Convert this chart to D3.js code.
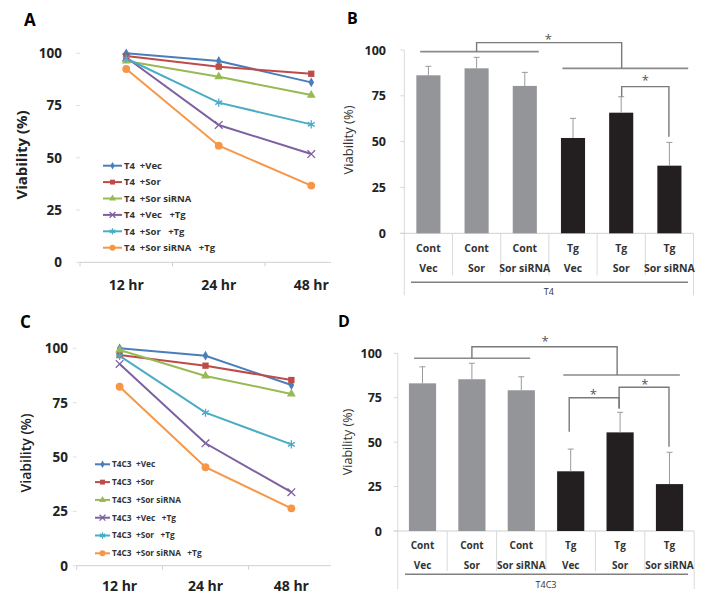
<!DOCTYPE html>
<html><head><meta charset="utf-8">
<script src="https://cdn.jsdelivr.net/npm/d3@7"></script>
<style>body{margin:0;background:#fff}svg{display:block}text{font-family:"Open Sans","Noto Sans",sans-serif}</style>
</head><body><svg id="c" width="715" height="597"></svg>
<script>
// ---------- data ----------
const hours = ["12 hr", "24 hr", "48 hr"];
const yTicks = [0, 25, 50, 75, 100];
const seriesA = ["T4  +Vec", "T4  +Sor", "T4  +Sor siRNA", "T4  +Vec   +Tg", "T4  +Sor   +Tg", "T4  +Sor siRNA   +Tg"];
const valuesA = [
  [100, 96.3, 86.1],
  [98.7, 93.6, 90.2],
  [96.3, 88.8, 80.0],
  [98.0, 65.7, 51.8],
  [97.5, 76.4, 66.0],
  [92.5, 55.8, 36.7]
];
const seriesC = ["T4C3  +Vec", "T4C3  +Sor", "T4C3  +Sor siRNA", "T4C3  +Vec   +Tg", "T4C3  +Sor   +Tg", "T4C3  +Sor siRNA   +Tg"];
const valuesC = [
  [100, 96.6, 83.1],
  [96.9, 92.0, 85.4],
  [99.2, 87.3, 79.0],
  [92.8, 56.3, 33.8],
  [96.5, 70.4, 55.8],
  [82.3, 45.3, 26.4]
];
const barTop = ["Cont", "Cont", "Cont", "Tg", "Tg", "Tg"];
const barBottom = ["Vec", "Sor", "Sor siRNA", "Vec", "Sor", "Sor siRNA"];
const valuesB = [86.2, 90.0, 80.4, 52.0, 65.8, 36.9];
const errB = [4.9, 6.0, 7.4, 10.7, 8.7, 12.7];
const valuesD = [83.1, 85.4, 79.2, 33.6, 55.5, 26.4];
const errD = [9.3, 9.0, 7.6, 12.5, 11.3, 17.9];
// significance annotations: x in category units, y in % units
const sigB = {
  groups: [[0.33, 2.79, 99.1], [3.28, 5.89, 90.0]],
  brackets: [[1.50, 99.1, 4.51, 90.0, 104], [4.51, 74.5, 5.49, 52.7, 80]],
  stars: [[2.99, 107], [5.0, 85]]
};
const sigD = {
  groups: [[0.33, 2.68, 97.2], [3.35, 5.71, 87.8]],
  brackets: [[1.50, 97.2, 4.44, 87.8, 103.7], [3.47, 55.9, 4.48, 69, 75], [4.48, 69, 5.49, 47.4, 80.9]],
  stars: [[2.98, 107.9], [3.96, 78.4], [5.0, 84]]
};

const colors = ["#4a7ebb", "#be4b48", "#98b954", "#7d60a0", "#4bacc6", "#f79646"];
const symbols = [d3.symbolDiamond, d3.symbolSquare, d3.symbolTriangle, d3.symbolTimes, d3.symbolAsterisk, d3.symbolCircle];
const symSize = [28, 40, 34, 40, 45, 48];
const stroked = [false, false, false, true, true, false];

const svg = d3.select("#c");

function marker(g, i, cx, cy, scale) {
  const p = g.append("path")
    .attr("d", d3.symbol().type(symbols[i]).size(symSize[i] * (scale || 1))())
    .attr("transform", `translate(${cx},${cy})`);
  if (stroked[i]) p.attr("fill", "none").attr("stroke", colors[i]).attr("stroke-width", 1.3);
  else p.attr("fill", colors[i]);
}

function linePanel(o) {
  const x = d3.scaleBand().domain(hours).range(o.xr);
  const y = d3.scaleLinear().domain([0, 100]).range(o.yr);
  const g = svg.append("g");
  g.append("text").attr("x", o.letter[0]).attr("y", o.letter[1]).attr("font-size", 17).attr("font-weight", "bold").text(o.name);
  g.selectAll(".yt").data(yTicks).join("text")
    .attr("x", o.ylx).attr("y", d => y(d)).attr("dy", "0.36em")
    .attr("text-anchor", "end").attr("font-weight", "bold").attr("font-size", o.tfs).attr("fill", "#222").text(d => d);
  g.selectAll(".ytk").data(yTicks).join("line")
    .attr("x1", o.xr[0] - 4).attr("x2", o.xr[0]).attr("y1", d => y(d)).attr("y2", d => y(d)).attr("stroke", "#e0e0e0");
  g.append("line").attr("x1", o.xr[0]).attr("x2", o.axEnd).attr("y1", y(0)).attr("y2", y(0)).attr("stroke", "#cfcfcf");
  g.selectAll(".xtk").data(hours).join("line")
    .attr("x1", d => x(d)).attr("x2", d => x(d)).attr("y1", y(0)).attr("y2", y(0) + 4).attr("stroke", "#cfcfcf");
  g.selectAll(".xl").data(hours).join("text")
    .attr("x", d => x(d) + x.bandwidth() / 2).attr("y", o.xly).attr("text-anchor", "middle")
    .attr("font-weight", "bold").attr("font-size", o.xfs).attr("fill", "#222").text(d => d);
  g.append("text").attr("transform", `translate(${o.ylab[0]},${o.ylab[1]}) rotate(-90)`)
    .attr("text-anchor", "middle").attr("dy", "0.35em").attr("font-size", o.ylfs).attr("font-weight", o.ylw).attr("fill", "#222")
    .text("Viability (%)");
  const line = d3.line().x((d, j) => x(hours[j]) + x.bandwidth() / 2).y(d => y(d));
  o.values.forEach((vals, i) => {
    g.append("path").attr("d", line(vals)).attr("fill", "none").attr("stroke", colors[i]).attr("stroke-width", 2);
  });
  o.values.forEach((vals, i) => {
    vals.forEach((v, j) => marker(g, i, x(hours[j]) + x.bandwidth() / 2, y(v)));
  });
  // legend
  o.series.forEach((s, i) => {
    const ly = o.leg[1] + i * o.leg[3];
    g.append("line").attr("x1", o.leg[0]).attr("x2", o.leg[0] + o.leg[2]).attr("y1", ly).attr("y2", ly)
      .attr("stroke", colors[i]).attr("stroke-width", 2);
    marker(g, i, o.leg[0] + o.leg[2] / 2, ly, 0.6);
    g.append("text").attr("x", o.leg[0] + o.leg[2] + 2).attr("y", ly).attr("dy", "0.35em")
      .attr("font-size", o.lfs).attr("font-weight", "bold").attr("fill", "#333")
      .text(s.replace(/ /g, "\u00a0"));
  });
}

function barPanel(o) {
  const x = d3.scaleBand().domain(d3.range(barTop.length)).range(o.xr);
  const y = d3.scaleLinear().domain([0, 100]).range(o.yr);
  const bw = x.bandwidth();
  const xc = v => o.xr[0] + v * bw; // category-unit position
  const g = svg.append("g");
  g.append("text").attr("x", o.letter[0]).attr("y", o.letter[1]).attr("font-size", 16).attr("font-weight", "bold").text(o.name);
  g.append("text").attr("transform", `translate(${o.ylab[0]},${o.ylab[1]}) rotate(-90)`)
    .attr("text-anchor", "middle").attr("dy", "0.35em").attr("font-size", o.ylfs).attr("fill", "#333")
    .text("Viability (%)");
  g.selectAll(".yt").data(yTicks).join("text")
    .attr("x", o.ylx).attr("y", d => y(d)).attr("dy", "0.36em")
    .attr("text-anchor", "end").attr("font-weight", "bold").attr("font-size", o.tfs).attr("fill", "#222").text(d => d);
  g.selectAll(".ytk").data(yTicks).join("line")
    .attr("x1", o.xr[0] - 4).attr("x2", o.xr[0]).attr("y1", d => y(d)).attr("y2", d => y(d)).attr("stroke", "#d9d9d9");
  // axes lines
  g.append("line").attr("x1", o.xr[0]).attr("x2", o.xr[0]).attr("y1", y(100)).attr("y2", y(0) + o.outerDrop).attr("stroke", "#d9d9d9");
  g.append("line").attr("x1", o.xr[1]).attr("x2", o.xr[1]).attr("y1", y(0)).attr("y2", y(0) + o.outerDrop).attr("stroke", "#d9d9d9");
  g.append("line").attr("x1", o.xr[0] - 4).attr("x2", o.xr[1]).attr("y1", y(0)).attr("y2", y(0)).attr("stroke", "#d0d0d0");
  g.selectAll(".sep").data(d3.range(1, barTop.length)).join("line")
    .attr("x1", d => x(d)).attr("x2", d => x(d)).attr("y1", y(0)).attr("y2", y(0) + o.sepDrop).attr("stroke", "#d9d9d9");
  // bars
  const bwid = bw * o.barFrac;
  g.selectAll(".bar").data(o.values).join("rect")
    .attr("x", (d, i) => x(i) + (bw - bwid) / 2).attr("width", bwid)
    .attr("y", d => y(d)).attr("height", d => y(0) - y(d))
    .attr("fill", (d, i) => i < 3 ? "#939598" : "#231f20");
  // error bars (upper only)
  o.values.forEach((v, i) => {
    const cx = x(i) + bw / 2;
    g.append("line").attr("x1", cx).attr("x2", cx).attr("y1", y(v)).attr("y2", y(v + o.err[i])).attr("stroke", "#9a9a9a").attr("stroke-width", 1);
    g.append("line").attr("x1", cx - 3).attr("x2", cx + 3).attr("y1", y(v + o.err[i])).attr("y2", y(v + o.err[i])).attr("stroke", "#9a9a9a").attr("stroke-width", 1);
  });
  // category labels
  g.selectAll(".c1").data(barTop).join("text")
    .attr("x", (d, i) => x(i) + bw / 2).attr("y", o.row1).attr("text-anchor", "middle")
    .attr("font-size", o.cfs).attr("font-weight", "bold").attr("fill", "#333").text(d => d);
  g.selectAll(".c2").data(barBottom).join("text")
    .attr("x", (d, i) => x(i) + bw / 2).attr("y", o.row2).attr("text-anchor", "middle")
    .attr("font-size", o.cfs).attr("font-weight", "bold").attr("fill", "#333").text(d => d);
  g.append("line").attr("x1", o.under[0]).attr("x2", o.under[1]).attr("y1", o.under[2]).attr("y2", o.under[2])
    .attr("stroke", "#808080").attr("stroke-width", 1.5);
  g.append("text").attr("x", (o.xr[0] + o.xr[1]) / 2).attr("y", o.grpY).attr("text-anchor", "middle")
    .attr("font-size", o.gfs).attr("fill", "#333").text(o.group);
  // significance
  const s = o.sig;
  s.groups.forEach(d => g.append("line").attr("x1", xc(d[0])).attr("x2", xc(d[1])).attr("y1", y(d[2])).attr("y2", y(d[2]))
    .attr("stroke", "#8a8a8a").attr("stroke-width", 1.6));
  s.brackets.forEach(d => g.append("path")
    .attr("d", `M${xc(d[0])},${y(d[1])}V${y(d[4])}H${xc(d[2])}V${y(d[3])}`)
    .attr("fill", "none").attr("stroke", "#7a7a7a").attr("stroke-width", 1.4));
  s.stars.forEach(d => g.append("text").attr("x", xc(d[0])).attr("y", y(d[1])).attr("dy", "0.55em")
    .attr("text-anchor", "middle").attr("font-size", 13).attr("fill", "#555").text("*"));
}

linePanel({name: "A", letter: [24, 26], xr: [80, 357.5], axEnd: 331, yr: [262.3, 53.3], ylx: 62, tfs: 13.5, xly: 290, xfs: 14,
  ylab: [22, 155], ylfs: 15, ylw: "bold", values: valuesA, series: seriesA, leg: [103, 165.7, 19, 16.4], lfs: 9.5});
linePanel({name: "C", letter: [20, 328], xr: [76.7, 334.3], axEnd: 331, yr: [565.7, 348.3], ylx: 68, tfs: 13.5, xly: 591, xfs: 14,
  ylab: [26, 453], ylfs: 14, ylw: "600", values: valuesC, series: seriesC, leg: [95, 464.3, 15, 17.8], lfs: 8.3});
barPanel({name: "B", letter: [347, 24], xr: [404.3, 693.5], yr: [233.3, 50], ylx: 386, tfs: 12.5, ylab: [348, 140], ylfs: 13,
  values: valuesB, err: errB, barFrac: 0.5, outerDrop: 62, sepDrop: 42, row1: 252, row2: 272, cfs: 10.5,
  under: [411, 688, 282.3], grpY: 295, gfs: 9, group: "T4", sig: sigB});
barPanel({name: "D", letter: [338, 327], xr: [397.8, 694.2], yr: [531, 353.3], ylx: 382, tfs: 12.5, ylab: [348, 442], ylfs: 12.5,
  values: valuesD, err: errD, barFrac: 0.55, outerDrop: 58, sepDrop: 40, row1: 549, row2: 569, cfs: 10,
  under: [405, 688, 574.3], grpY: 588, gfs: 9, group: "T4C3", sig: sigD});
</script></body></html>
